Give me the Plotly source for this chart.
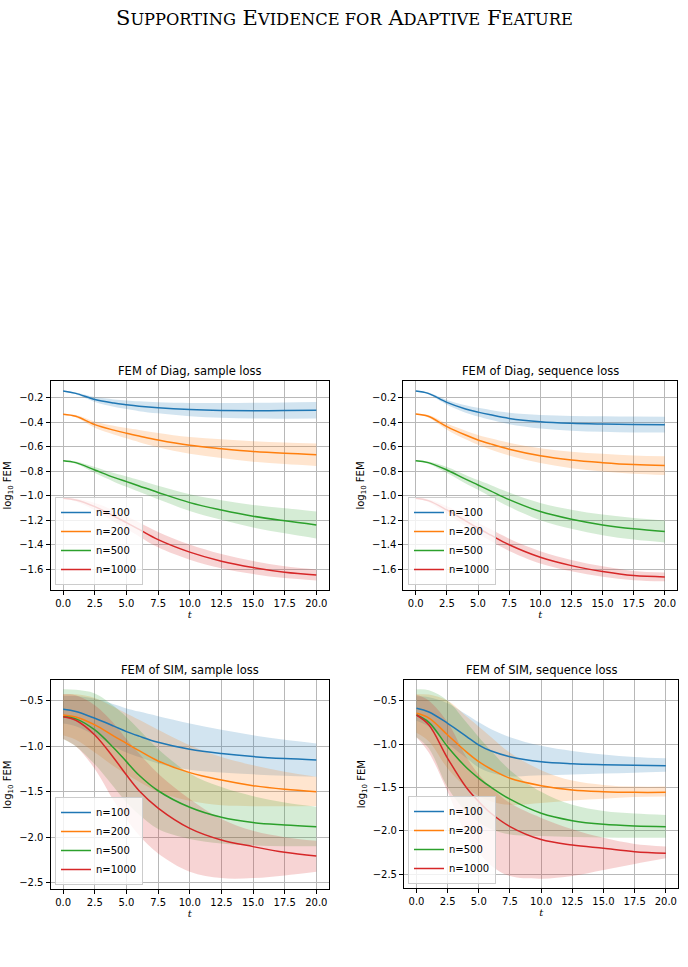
import plotly.graph_objects as go

# ---------------- data ----------------
t = [0, 1, 2.5, 4, 5, 6, 7.5, 10, 12.5, 15, 17.5, 20]
labels = ["n=100", "n=200", "n=500", "n=1000"]
colors = ["#1f77b4", "#ff7f0e", "#2ca02c", "#d62728"]
fills = ["rgba(31,119,180,0.2)", "rgba(255,127,14,0.2)", "rgba(44,160,44,0.2)", "rgba(214,39,40,0.2)"]

# Panel 1: Diag, sample loss (mean, sd)
diag_sample_mean = [
    [-0.146, -0.165, -0.215, -0.244, -0.258, -0.270, -0.283, -0.297, -0.304, -0.306, -0.305, -0.303],
    [-0.335, -0.352, -0.420, -0.465, -0.490, -0.513, -0.546, -0.589, -0.616, -0.639, -0.654, -0.665],
    [-0.714, -0.730, -0.790, -0.850, -0.885, -0.920, -0.973, -1.056, -1.116, -1.167, -1.205, -1.238],
    [-1.020, -1.035, -1.089, -1.165, -1.220, -1.275, -1.358, -1.460, -1.534, -1.586, -1.624, -1.646],
]
diag_sample_sd = [
    [0.003, 0.008, 0.020, 0.030, 0.035, 0.040, 0.045, 0.054, 0.060, 0.064, 0.066, 0.067],
    [0.003, 0.010, 0.025, 0.035, 0.042, 0.050, 0.058, 0.068, 0.076, 0.083, 0.088, 0.092],
    [0.003, 0.010, 0.025, 0.035, 0.042, 0.048, 0.055, 0.068, 0.080, 0.092, 0.102, 0.110],
    [0.003, 0.012, 0.030, 0.045, 0.050, 0.057, 0.063, 0.062, 0.058, 0.053, 0.048, 0.045],
]
# Panel 2: Diag, sequence loss (mean, sd)
diag_seq_mean = [
    [-0.146, -0.165, -0.238, -0.292, -0.318, -0.340, -0.369, -0.396, -0.409, -0.415, -0.419, -0.420],
    [-0.333, -0.352, -0.436, -0.505, -0.545, -0.577, -0.620, -0.673, -0.708, -0.730, -0.746, -0.754],
    [-0.714, -0.730, -0.790, -0.865, -0.912, -0.960, -1.032, -1.129, -1.192, -1.238, -1.270, -1.292],
    [-1.020, -1.040, -1.116, -1.205, -1.265, -1.320, -1.400, -1.502, -1.570, -1.618, -1.651, -1.662],
]
diag_seq_sd = [
    [0.003, 0.008, 0.020, 0.030, 0.035, 0.040, 0.047, 0.055, 0.060, 0.063, 0.065, 0.065],
    [0.003, 0.010, 0.025, 0.035, 0.040, 0.045, 0.052, 0.060, 0.067, 0.072, 0.075, 0.077],
    [0.003, 0.010, 0.025, 0.035, 0.040, 0.048, 0.058, 0.070, 0.078, 0.084, 0.088, 0.090],
    [0.003, 0.012, 0.030, 0.040, 0.045, 0.048, 0.050, 0.050, 0.046, 0.042, 0.038, 0.036],
]
# Panel 3: SIM, sample loss (mean, upper, lower)
sim_sample_mean = [
    [-0.595, -0.620, -0.694, -0.780, -0.840, -0.890, -0.958, -1.035, -1.082, -1.115, -1.137, -1.152],
    [-0.657, -0.680, -0.767, -0.890, -0.969, -1.050, -1.163, -1.291, -1.372, -1.434, -1.474, -1.500],
    [-0.676, -0.700, -0.822, -1.020, -1.170, -1.320, -1.490, -1.672, -1.782, -1.840, -1.866, -1.885],
    [-0.676, -0.715, -0.877, -1.130, -1.317, -1.490, -1.680, -1.903, -2.031, -2.104, -2.167, -2.207],
]
sim_sample_hi = [
    [-0.450, -0.450, -0.480, -0.540, -0.585, -0.620, -0.670, -0.750, -0.820, -0.880, -0.930, -0.970],
    [-0.430, -0.430, -0.470, -0.570, -0.640, -0.710, -0.820, -0.990, -1.120, -1.210, -1.280, -1.335],
    [-0.375, -0.380, -0.420, -0.560, -0.680, -0.820, -1.030, -1.300, -1.450, -1.550, -1.620, -1.665],
    [-0.430, -0.440, -0.550, -0.750, -0.920, -1.080, -1.300, -1.580, -1.800, -1.930, -2.000, -2.040],
]
sim_sample_lo = [
    [-0.750, -0.780, -0.880, -1.000, -1.070, -1.120, -1.190, -1.260, -1.290, -1.310, -1.325, -1.335],
    [-0.880, -0.930, -1.070, -1.220, -1.310, -1.390, -1.500, -1.600, -1.650, -1.660, -1.660, -1.657],
    [-0.920, -1.000, -1.200, -1.450, -1.620, -1.750, -1.910, -2.020, -2.070, -2.090, -2.100, -2.100],
    [-0.920, -1.000, -1.250, -1.600, -1.800, -1.980, -2.180, -2.380, -2.450, -2.450, -2.420, -2.380],
]
# Panel 4: SIM, sequence loss (mean, upper, lower)
sim_seq_mean = [
    [-0.588, -0.630, -0.761, -0.910, -1.011, -1.080, -1.145, -1.203, -1.226, -1.237, -1.245, -1.249],
    [-0.646, -0.700, -0.895, -1.090, -1.203, -1.290, -1.394, -1.479, -1.529, -1.548, -1.556, -1.556],
    [-0.665, -0.750, -1.030, -1.270, -1.394, -1.500, -1.635, -1.797, -1.882, -1.924, -1.943, -1.951],
    [-0.665, -0.780, -1.164, -1.500, -1.663, -1.800, -1.950, -2.100, -2.162, -2.200, -2.239, -2.258],
]
sim_seq_hi = [
    [-0.450, -0.460, -0.530, -0.660, -0.750, -0.830, -0.920, -1.020, -1.080, -1.120, -1.150, -1.164],
    [-0.427, -0.430, -0.500, -0.680, -0.800, -0.920, -1.100, -1.300, -1.420, -1.470, -1.490, -1.490],
    [-0.370, -0.380, -0.500, -0.750, -0.920, -1.080, -1.300, -1.550, -1.700, -1.770, -1.800, -1.817],
    [-0.430, -0.500, -0.750, -1.150, -1.350, -1.500, -1.680, -1.850, -1.980, -2.080, -2.150, -2.180],
]
sim_seq_lo = [
    [-0.730, -0.800, -0.990, -1.160, -1.270, -1.330, -1.370, -1.360, -1.350, -1.340, -1.330, -1.318],
    [-0.870, -0.970, -1.280, -1.500, -1.600, -1.660, -1.700, -1.680, -1.650, -1.630, -1.610, -1.605],
    [-0.920, -1.050, -1.500, -1.780, -1.900, -1.980, -2.040, -2.060, -2.070, -2.075, -2.078, -2.078],
    [-0.920, -1.100, -1.550, -2.050, -2.250, -2.400, -2.520, -2.550, -2.520, -2.450, -2.380, -2.316],
]

panel_titles = ["FEM of Diag, sample loss", "FEM of Diag, sequence loss",
                "FEM of SIM, sample loss", "FEM of SIM, sequence loss"]
x_ticks = [0, 2.5, 5, 7.5, 10, 12.5, 15, 17.5, 20]
y_ticks_top = [-0.2, -0.4, -0.6, -0.8, -1.0, -1.2, -1.4, -1.6]
y_ticks_bot = [-0.5, -1.0, -1.5, -2.0, -2.5]

# ---------------- layout geometry ----------------
W, H = 688, 967
boxes = [  # (left, right, top, bottom) in px
    (50.5, 329.0, 381.0, 590.0),
    (403.3, 677.3, 381.0, 590.0),
    (50.5, 329.0, 680.0, 889.3),
    (404.0, 678.3, 680.0, 888.3),
]
yranges = [[-1.769, -0.064], [-1.769, -0.064], [-2.573, -0.273], [-2.661, -0.262]]
legend_pos = [(55, 585), (408, 585), (55, 885), (408, 884)]

panels = []
for i in range(2):
    m, s = [diag_sample_mean, diag_seq_mean][i], [diag_sample_sd, diag_seq_sd][i]
    hi = [[a + b for a, b in zip(mm, ss)] for mm, ss in zip(m, s)]
    lo = [[a - b for a, b in zip(mm, ss)] for mm, ss in zip(m, s)]
    panels.append((m, hi, lo))
panels.append((sim_sample_mean, sim_sample_hi, sim_sample_lo))
panels.append((sim_seq_mean, sim_seq_hi, sim_seq_lo))

fig = go.Figure()
FONT = "DejaVu Sans"
SMOOTH = 1.0

for p, (means, his, los) in enumerate(panels):
    xa = "x" if p == 0 else f"x{p+1}"
    ya = "y" if p == 0 else f"y{p+1}"
    leg = "legend" if p == 0 else f"legend{p+1}"
    for k in range(4):
        fig.add_trace(go.Scatter(x=t, y=his[k], xaxis=xa, yaxis=ya, mode="lines",
                                 line=dict(width=0, shape="spline", smoothing=SMOOTH),
                                 showlegend=False, hoverinfo="skip"))
        fig.add_trace(go.Scatter(x=t, y=los[k], xaxis=xa, yaxis=ya, mode="lines",
                                 line=dict(width=0, shape="spline", smoothing=SMOOTH),
                                 fill="tonexty", fillcolor=fills[k],
                                 showlegend=False, hoverinfo="skip"))
    for k in range(4):
        fig.add_trace(go.Scatter(x=t, y=means[k], xaxis=xa, yaxis=ya, mode="lines",
                                 line=dict(color=colors[k], width=1.5, shape="spline", smoothing=SMOOTH),
                                 name=labels[k], legend=leg))

layout = dict(width=W, height=H, margin=dict(l=0, r=0, t=0, b=0),
              paper_bgcolor="white", plot_bgcolor="white",
              font=dict(family=FONT, size=10, color="black"))

annotations = []
for p, (l, r, tp, b) in enumerate(boxes):
    sfx = "" if p == 0 else str(p + 1)
    axcommon = dict(showline=True, mirror=True, linecolor="black", linewidth=1,
                    ticks="outside", ticklen=4, tickcolor="black", tickwidth=1,
                    showgrid=True, gridcolor="#b8b8b8", gridwidth=1, zeroline=False,
                    tickfont=dict(family=FONT, size=10))
    layout["xaxis" + sfx] = dict(axcommon, domain=[l / W, r / W], anchor="y" + sfx,
                                 range=[-1, 21], tickvals=x_ticks, tickformat=".1f",
                                 title=dict(text="<i>t</i>", standoff=2,
                                            font=dict(family="DejaVu Serif", size=10)))
    layout["yaxis" + sfx] = dict(axcommon, domain=[1 - b / H, 1 - tp / H], anchor="x" + sfx,
                                 range=yranges[p],
                                 tickvals=y_ticks_top if p < 2 else y_ticks_bot,
                                 tickformat=".1f",
                                 title=dict(text="log<sub>10</sub> FEM", standoff=5,
                                            font=dict(family=FONT, size=10)))
    lx, ly = legend_pos[p]
    layout["legend" + sfx] = dict(x=lx / W, y=1 - ly / H, xanchor="left", yanchor="bottom",
                                  bgcolor="rgba(255,255,255,0.8)", bordercolor="#cccccc",
                                  borderwidth=1, font=dict(family=FONT, size=10),
                                  traceorder="normal", tracegroupgap=0, itemwidth=30)
    annotations.append(dict(text=panel_titles[p], x=(l + r) / 2 / W, y=1 - (tp - 1) / H,
                            xref="paper", yref="paper", xanchor="center", yanchor="bottom",
                            showarrow=False, font=dict(family=FONT, size=11.5)))

sc = "font-size:16.3px"
title_txt = (f"S<span style='{sc}'>UPPORTING</span> E<span style='{sc}'>VIDENCE FOR</span> "
             f"A<span style='{sc}'>DAPTIVE</span> F<span style='{sc}'>EATURE</span>")
annotations.append(dict(text=title_txt, x=0.5, y=1 - 18 / H, xref="paper", yref="paper",
                        xanchor="center", yanchor="middle", showarrow=False,
                        font=dict(family="DejaVu Serif", size=21)))
layout["annotations"] = annotations
fig.update_layout(**layout)

fig.write_html("out.html")
